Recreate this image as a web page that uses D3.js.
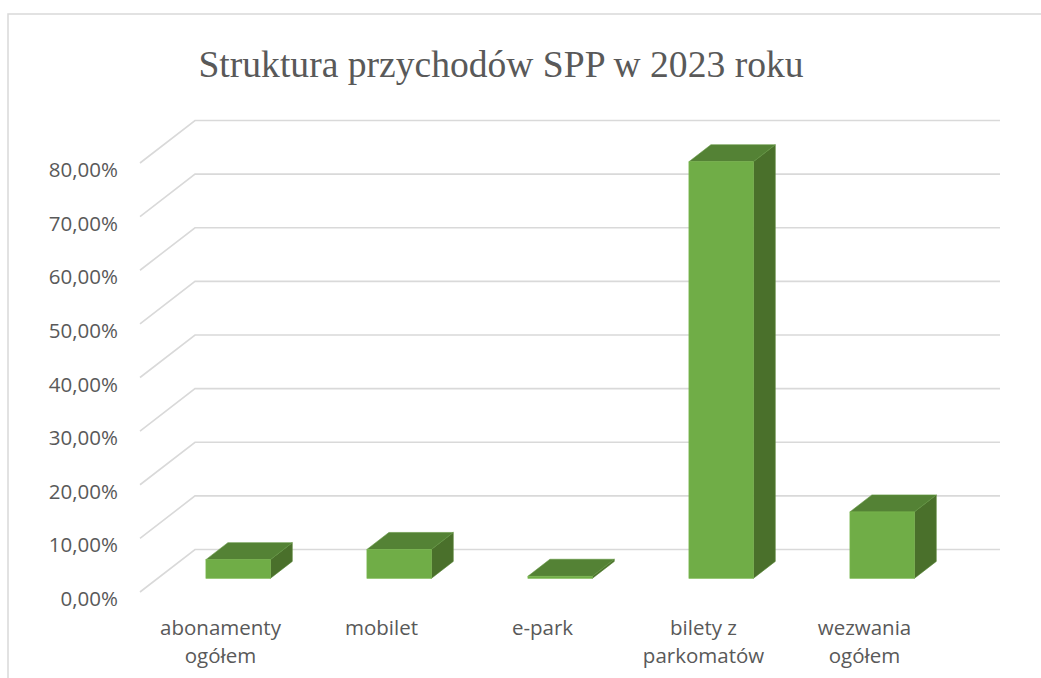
<!DOCTYPE html>
<html>
<head>
<meta charset="utf-8">
<script src="https://cdn.jsdelivr.net/npm/d3@7"></script>
<style>
  body { margin: 0; background: #fff; }
  svg { display: block; }
</style>
</head>
<body>
<div id="chart"></div>
<script>
// data
var categories = ["abonamenty ogółem", "mobilet", "e-park", "bilety z parkomatów", "wezwania ogółem"];
var labelLines = [["abonamenty", "ogółem"], ["mobilet"], ["e-park"], ["bilety z", "parkomatów"], ["wezwania", "ogółem"]];
var shares = [3.5, 5.4, 0.4, 77.7, 12.4];
var yTicks = [0, 10, 20, 30, 40, 50, 60, 70, 80];

var width = 1041, height = 678;

// floor front edge + oblique depth offset
var floorLeft = 140, floorRight = 945, floorY = 592;
var depthX = 55, depthY = 42.5;
var barDepth = [0.32, 0.72];

var svg = d3.select("#chart").append("svg")
  .attr("width", width)
  .attr("height", height);

// chart border
svg.append("rect")
  .attr("x", 8).attr("y", 14)
  .attr("width", 1100).attr("height", 800)
  .attr("fill", "none")
  .attr("stroke", "#d9d9d9")
  .attr("stroke-width", 1.5);

svg.append("text")
  .attr("x", 501).attr("y", 77)
  .attr("text-anchor", "middle")
  .attr("font-family", "Liberation Serif, Times New Roman, serif")
  .attr("font-size", 37.6)
  .attr("fill", "#595959")
  .text("Struktura przychodów SPP w 2023 roku");

var y = d3.scaleLinear().domain([0, 80]).range([floorY, floorY - 429]);

var x = d3.scaleBand()
  .domain(categories)
  .range([floorLeft, floorRight])
  .paddingInner(0.6)
  .paddingOuter(0.3);

var xLabel = d3.scaleBand().domain(categories).range([floorLeft, floorRight]);

// gridlines: left wall diagonal + back wall
svg.append("g").selectAll("path")
  .data(yTicks)
  .join("path")
  .attr("fill", "none")
  .attr("stroke", "#d9d9d9")
  .attr("stroke-width", 1.6)
  .attr("d", function(d) {
    var yf = y(d);
    return "M" + floorLeft + "," + yf +
      "L" + (floorLeft + depthX) + "," + (yf - depthY) +
      "L" + (floorRight + depthX) + "," + (yf - depthY);
  });

// y tick labels
svg.append("g").selectAll("text")
  .data(yTicks)
  .join("text")
  .attr("x", 118)
  .attr("y", function(d) { return y(d) + 14; })
  .attr("text-anchor", "end")
  .attr("font-family", "Open Sans, sans-serif")
  .attr("font-size", 20.5)
  .attr("fill", "#595959")
  .text(function(d) { return d3.format(".2f")(d).replace(".", ",") + "%"; });

// 3d bars
var bars = svg.append("g").selectAll("g")
  .data(categories)
  .join("g");

function corner(c, t, v, side) {
  var px = x(c) + (side ? x.bandwidth() : 0) + depthX * t;
  var py = y(v) - depthY * t;
  return [px, py];
}

function poly(pts) { return "M" + pts.map(function(p) { return p.join(","); }).join("L") + "Z"; }

var t0 = barDepth[0], t1 = barDepth[1];

// right side
bars.append("path")
  .attr("fill", "#4a702b")
  .attr("stroke", "#5c8a3c").attr("stroke-width", 0.6)
  .attr("d", function(c, i) {
    var v = shares[i];
    return poly([corner(c, t0, 0, 1), corner(c, t1, 0, 1), corner(c, t1, v, 1), corner(c, t0, v, 1)]);
  });

// top
bars.append("path")
  .attr("fill", "#548235")
  .attr("stroke", "#629640").attr("stroke-width", 0.6)
  .attr("d", function(c, i) {
    var v = shares[i];
    return poly([corner(c, t0, v, 0), corner(c, t0, v, 1), corner(c, t1, v, 1), corner(c, t1, v, 0)]);
  });

// front
bars.append("rect")
  .attr("fill", "#70ad47")
  .attr("stroke", "#7dba52").attr("stroke-width", 0.6)
  .attr("x", function(c) { return x(c) + depthX * t0; })
  .attr("y", function(c, i) { return y(shares[i]) - depthY * t0; })
  .attr("width", x.bandwidth())
  .attr("height", function(c, i) { return y(0) - y(shares[i]); });

// category labels
var lab = svg.append("g").selectAll("text")
  .data(categories)
  .join("text")
  .attr("text-anchor", "middle")
  .attr("font-family", "Open Sans, sans-serif")
  .attr("font-size", 20.5)
  .attr("fill", "#595959");

lab.selectAll("tspan")
  .data(function(c, i) { return labelLines[i].map(function(s) { return {c: c, s: s}; }); })
  .join("tspan")
  .attr("x", function(d) { return xLabel(d.c) + xLabel.bandwidth() / 2; })
  .attr("y", function(d, j) { return 635 + j * 28; })
  .text(function(d) { return d.s; });
</script>
</body>
</html>
